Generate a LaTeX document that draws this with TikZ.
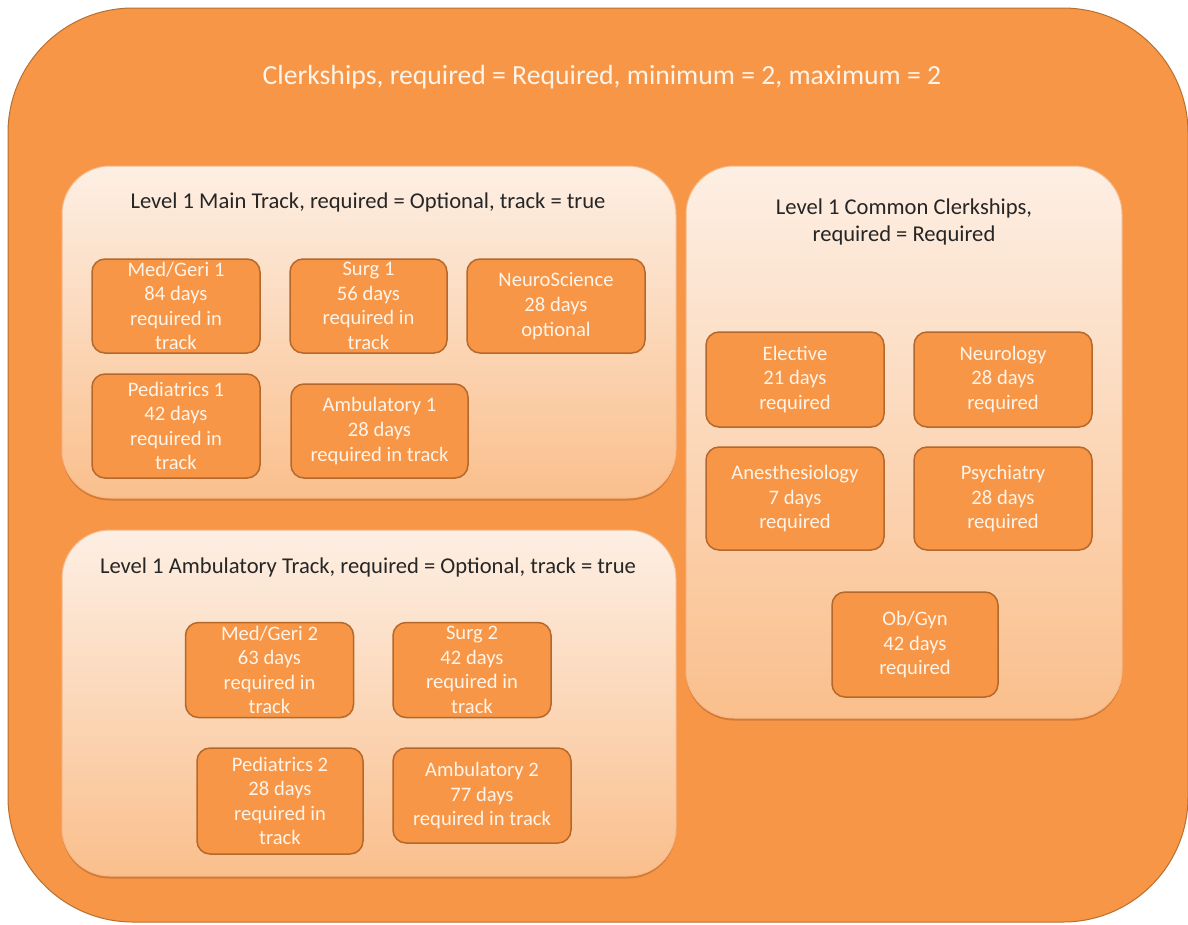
\documentclass[tikz,border=0pt]{standalone}
\usepackage{fontspec}
\setmainfont{Carlito}
\usetikzlibrary{shadows}
\definecolor{outerfill}{HTML}{F79646}
\definecolor{outerdraw}{HTML}{B7702F}
\definecolor{paneltop}{HTML}{FDEFE4}
\definecolor{panelbot}{HTML}{FABF8C}
\definecolor{paneldraw}{HTML}{F6B889}
\definecolor{boxfill}{HTML}{F79646}
\definecolor{boxdraw}{HTML}{B5682B}
\definecolor{boxtext}{HTML}{FFF4EA}
\definecolor{titletext}{HTML}{262626}
\definecolor{shadowcol}{HTML}{B86428}
\tikzset{
  outerbox/.style={draw=outerdraw, line width=1pt, fill=outerfill, rounded corners=125pt, inner sep=0pt},
  panel/.style={draw=paneldraw, line width=1pt, top color=paneltop, bottom color=panelbot,
    rounded corners=48pt, inner sep=0pt,
    drop shadow={shadow xshift=0pt, shadow yshift=-2.5pt, opacity=0.55, fill=shadowcol}},
  item/.style={draw=boxdraw, line width=1.5pt, fill=boxfill, rounded corners=13pt, inner sep=0pt,
    text=boxtext, align=center, font=\fontsize{20.6}{24.6}\selectfont},
  ptitle/.style={text=titletext, align=center, inner sep=0pt, font=\fontsize{22.6}{27}\selectfont},
  mtitle/.style={text=boxtext, align=center, inner sep=0pt, font=\fontsize{27.7}{32}\selectfont},
}
\begin{document}
\begin{tikzpicture}[x=1pt, y=-1pt]
\useasboundingbox (0,0) rectangle (1188,924);
\fill[white] (0,0) rectangle (1188,924);
\begin{scope}
\clip (0,0) rectangle (1188,924);
\node[outerbox, minimum width=1180pt, minimum height=914pt] (outer) at (598,465) {};
\end{scope}
\node[mtitle] (title) at (602,77) {Clerkships, required = Required, minimum = 2, maximum = 2};

% panels
\node[panel, minimum width=614pt, minimum height=332pt] (mainp) at (369,332) {};
\node[panel, minimum width=614pt, minimum height=346pt] (ambp) at (369,703) {};
\node[panel, minimum width=436pt, minimum height=552pt] (comp) at (904,442) {};

\node[ptitle] (mainT) at (368,202) {Level 1 Main Track, required = Optional, track = true};
\node[ptitle] (ambT) at (368,567) {Level 1 Ambulatory Track, required = Optional, track = true};
\node[ptitle] (comT) at (904,221.5) {Level 1 Common Clerkships,\\ required = Required};

% main track items
\node[item, minimum width=168pt, minimum height=94pt] (mg1) at (176,306) {Med/Geri 1\\84 days\\required in\\track};
\node[item, minimum width=157pt, minimum height=94pt] (s1) at (368.5,306) {Surg 1\\56 days\\required in\\track};
\node[item, minimum width=178pt, minimum height=94pt] (ns) at (556,306) {NeuroScience\\28 days\\optional};
\node[item, minimum width=168pt, minimum height=104pt] (ped1) at (176,426) {Pediatrics 1\\42 days\\required in\\track};
\node[item, minimum width=177pt, minimum height=94pt] (amb1) at (379.5,431) {Ambulatory 1\\28 days\\required in track};

% ambulatory track items
\node[item, minimum width=168pt, minimum height=95pt] (mg2) at (269.5,670) {Med/Geri 2\\63 days\\required in\\track};
\node[item, minimum width=158pt, minimum height=95pt] (s2) at (472,670) {Surg 2\\42 days\\required in\\track};
\node[item, minimum width=166pt, minimum height=106pt] (ped2) at (280,801) {Pediatrics 2\\28 days\\required in\\track};
\node[item, minimum width=178pt, minimum height=95pt] (amb2) at (482,795.5) {Ambulatory 2\\77 days\\required in track};

% common items
\node[item, minimum width=178pt, minimum height=95pt] (el) at (795,379.5) {Elective\\21 days\\required};
\node[item, minimum width=178pt, minimum height=95pt] (neu) at (1003,379.5) {Neurology\\28 days\\required};
\node[item, minimum width=178pt, minimum height=103pt] (an) at (795,498.5) {Anesthesiology\\7 days\\required};
\node[item, minimum width=178pt, minimum height=103pt] (ps) at (1003,498.5) {Psychiatry\\28 days\\required};
\node[item, minimum width=166pt, minimum height=105pt] (ob) at (915,644.5) {Ob/Gyn\\42 days\\required};
\end{tikzpicture}
\end{document}
